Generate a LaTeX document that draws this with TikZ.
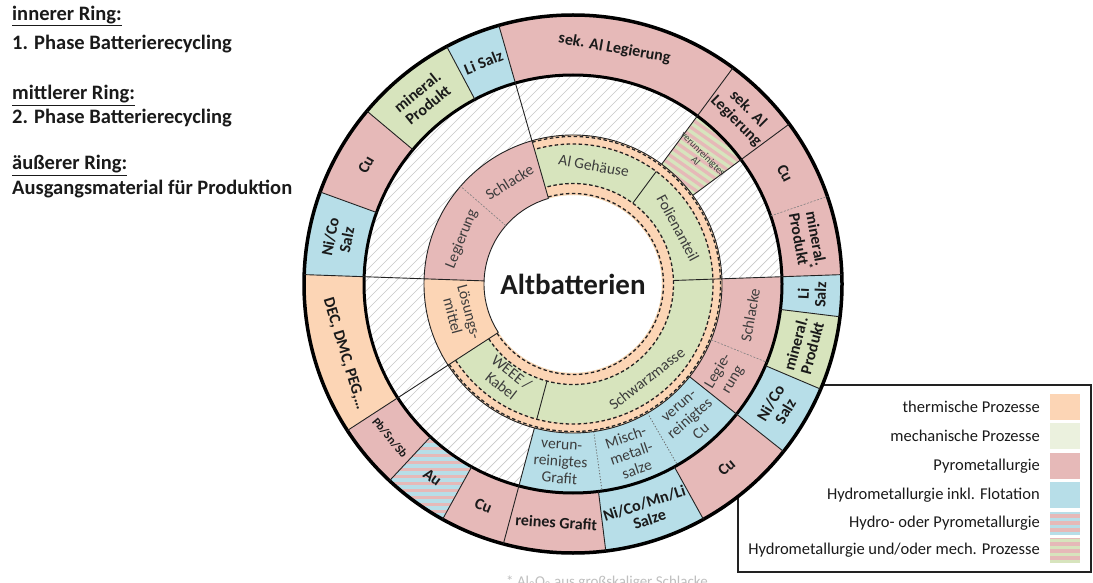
\documentclass[tikz,border=0pt]{standalone}
\usepackage{fontspec}
\setmainfont{Carlito}
\definecolor{pk}{HTML}{E6B9B8}
\definecolor{bl}{HTML}{B7DEE8}
\definecolor{gr}{HTML}{D7E4BD}
\definecolor{grl}{HTML}{EBF1DE}
\definecolor{orng}{HTML}{FCD5B5}
\definecolor{hatchc}{HTML}{C8C8C8}
\definecolor{ink}{HTML}{1A1A1A}
\definecolor{txtg}{HTML}{3C3C3C}
\definecolor{edge}{HTML}{222222}
\newcommand\sectfill[5]{\fill[#1] (#2:#4) arc[start angle=#2,end angle=#3,radius=#4] -- (#3:#5) arc[start angle=#3,end angle=#2,radius=#5] -- cycle;}
\newcommand\sectclip[4]{\clip (#1:#3) arc[start angle=#1,end angle=#2,radius=#3] -- (#2:#4) arc[start angle=#2,end angle=#1,radius=#4] -- cycle;}
\newcommand\hatchsect[4]{\begin{scope}\sectclip{#1}{#2}{#3}{#4}\fill[white] (-280,-280) rectangle (280,280);
  \foreach \k in {-560,-550,...,560}{\draw[hatchc,line width=0.7pt] (\k-280,-280) -- (\k+280,280);}\end{scope}}
\newcommand\stripesect[7]{\begin{scope}\sectclip{#1}{#2}{#3}{#4}\fill[#5] (-280,-280) rectangle (280,280);
  \foreach \k in {-280,-273,...,280}{\draw[#6,line width=3.3pt,rotate=#7] (-300,\k) -- (300,\k);}\end{scope}}
\newcommand\radl[4]{\draw[#1] (#2:#3) -- (#2:#4);}
\newcommand\lab[6]{\node[#2,rotate=#5] (#1) at (#3:#4) {#6};}
\begin{document}
\begin{tikzpicture}[x=1pt,y=1pt,
  hd/.style={anchor=base west,font=\fontsize{20.5}{24}\selectfont\bfseries,text=ink,inner sep=0pt},
  ol/.style={font=\fontsize{16}{17}\selectfont\bfseries,text=ink,align=center,inner sep=0pt},
  olsmall/.style={font=\fontsize{12}{13}\selectfont\bfseries,text=ink,align=center,inner sep=0pt},
  ml/.style={font=\fontsize{15.5}{17}\selectfont,text=txtg,align=center,inner sep=0pt},
  mlsmall/.style={font=\fontsize{10}{10.5}\selectfont,text=txtg,align=center,inner sep=0pt},
  seg/.style={draw=edge,line width=0.9pt},
  dsh/.style={draw=edge,line width=1.3pt,dash pattern=on 3.5pt off 2.5pt},
  fdsh/.style={draw=gray,line width=0.6pt,dash pattern=on 2pt off 1.5pt},
  dot/.style={draw=gray!80!black,line width=0.8pt,dash pattern=on 1.2pt off 1.8pt},
  lg/.style={anchor=east,font=\fontsize{16.5}{18}\selectfont,text=ink,inner sep=0pt}]
\useasboundingbox (0,0) rectangle (1093,582);
\fill[white] (0,0) rectangle (1093,582);
% top-left explanation
\node[hd] (h1) at (12,561.3) {\underline{innerer Ring:}};
\node[hd] (h2) at (12,532) {1. Phase Batterierecycling};
\node[hd] (h3) at (12,482) {\underline{mittlerer Ring:}};
\node[hd] (h4) at (12,458) {2. Phase Batterierecycling};
\node[hd] (h5) at (12,412) {\underline{äußerer Ring:}};
\node[hd] (h6) at (12,387) {Ausgangsmaterial für Produktion};
% legend
\draw[edge,line width=1.3pt] (738,10) rectangle (1091,197);
\fill[orng] (1050,162.5) rectangle (1080,188.5);
\fill[grl] (1050,133.5) rectangle (1080,159.5);
\fill[pk] (1050,103) rectangle (1080,129);
\fill[bl] (1050,74) rectangle (1080,100);
\begin{scope}\clip (1050,47) rectangle (1080,70);\fill[pk] (1050,47) rectangle (1080,70);
\foreach \k in {48.5,55.5,...,70}{\draw[bl,line width=3.3pt] (1050,\k) -- (1080,\k);}\end{scope}
\begin{scope}\clip (1050,19) rectangle (1080,44);\fill[pk] (1050,19) rectangle (1080,44);
\foreach \k in {20.5,27.5,...,44}{\draw[gr,line width=3.3pt] (1050,\k) -- (1080,\k);}\end{scope}
\node[lg] (l1) at (1040,175.5) {thermische Prozesse};
\node[lg] (l2) at (1040,146.5) {mechanische Prozesse};
\node[lg] (l3) at (1040,116) {Pyrometallurgie};
\node[lg] (l4) at (1040,87) {Hydrometallurgie inkl. Flotation};
\node[lg] (l5) at (1040,58.5) {Hydro- oder Pyrometallurgie};
\node[lg] (l6) at (1040,31.5) {Hydrometallurgie und/oder mech. Prozesse};
% footnote
\node[anchor=base west,font=\fontsize{15}{16}\selectfont,text=gray!50,inner sep=0pt] (fn) at (506,-4) {* Al\textsubscript{2}O\textsubscript{3} aus großskaliger Schlacke};
% ===== chart =====
\begin{scope}[shift={(573,298)}]
\fill[white] (0,0) circle (269);
% middle ring
\hatchsect{0}{360}{149}{209}
\stripesect{36.5}{53.5}{149}{209}{gr}{pk}{-35}
\sectfill{pk}{-38.5}{2}{149}{209}
\sectfill{bl}{-105}{-38.5}{149}{209}
% outer ring
\sectfill{pk}{0}{360}{209}{269}
\sectfill{bl}{-7}{2}{209}{269}
\sectfill{gr}{-23}{-7}{209}{269}
\sectfill{bl}{-38.5}{-23}{209}{269}
\sectfill{bl}{-83}{-61}{209}{269}
\stripesect{-133}{-119}{209}{269}{pk}{bl}{0}
\sectfill{orng}{178}{213}{209}{269}
\sectfill{bl}{160}{178}{209}{269}
\sectfill{gr}{118}{140}{209}{269}
\sectfill{bl}{106}{118}{209}{269}
% inner ring
\sectfill{pk}{106}{178}{89}{149}
\sectfill{orng}{178}{213}{89}{149}
\sectfill{gr}{-147}{106}{89}{149}
\sectfill{orng}{-147}{106}{139.5}{149}
\sectfill{orng}{-147}{106}{89}{100.5}
\draw[dsh] (-147:147.5) arc[start angle=-147,end angle=106,radius=147.5];
\draw[dsh] (-147:140) arc[start angle=-147,end angle=106,radius=140];
\draw[dsh] (-147:100.5) arc[start angle=-147,end angle=106,radius=100.5];
\draw[dsh] (-147:90.5) arc[start angle=-147,end angle=106,radius=90.5];
\draw[seg] (106:89) arc[start angle=106,end angle=213,radius=89];
% circles
\draw[seg] (0,0) circle (149);
\draw[draw=black,line width=3pt] (0,0) circle (209);
\draw[draw=black,line width=3.5pt] (0,0) circle (269);
% dividers
\radl{seg}{106}{89}{269}
\radl{seg}{178}{89}{269}
\radl{seg}{213}{89}{269}
\radl{seg}{2}{100.5}{269}
\radl{seg}{53.5}{100.5}{140}
\radl{seg}{53.5}{149}{269}
\radl{seg}{36.5}{149}{269}
\radl{seg}{-105}{100.5}{140}
\radl{seg}{-105}{149}{269}
\radl{seg}{-38.5}{149}{269}
\radl{dot}{-60}{149}{209}
\radl{seg}{-61}{209}{269}
\radl{dot}{-82}{149}{209}
\radl{seg}{-83}{209}{269}
\radl{fdsh}{-22}{149}{209}
\radl{fdsh}{139}{89}{149}
\radl{seg}{118}{209}{269}
\radl{seg}{140}{209}{269}
\radl{seg}{160}{209}{269}
\radl{seg}{-133}{209}{269}
\radl{seg}{-119}{209}{269}
\radl{seg}{-23}{209}{269}
\radl{seg}{-7}{209}{269}
\radl{fdsh}{19}{209}{269}
% outer labels
\lab{o1}{ol}{80}{239}{-10}{sek. Al Legierung}
\lab{o2}{ol}{45}{239}{-45}{sek. Al\\Legierung}
\lab{o3}{ol}{27.5}{239}{-62.5}{Cu}
\lab{o4}{ol}{10.5}{239}{-79.5}{mineral.\\Produkt\textsuperscript{*}}
\lab{o5}{ol}{-2.5}{239}{87.5}{Li\\Salz}
\lab{o6}{ol}{-15}{239}{75}{mineral.\\Produkt}
\lab{o7}{ol}{-31}{239}{59}{Ni/Co\\Salz}
\lab{o8}{ol}{-50}{239}{40}{Cu}
\lab{o9}{ol}{-72}{239}{18}{Ni/Co/Mn/Li\\Salze}
\lab{o10}{ol}{-94}{239}{-4}{reines Grafit}
\lab{o11}{ol}{-112}{239}{-22}{Cu}
\lab{o12}{ol}{-126}{239}{-36}{Au}
\lab{o13}{olsmall}{-140}{239}{-50}{Pb/Sn/Sb}
\lab{o14}{ol}{-163}{239}{-73}{DEC, DMC, PEG,…}
\lab{o15}{ol}{169}{239}{79}{Ni/Co\\Salz}
\lab{o16}{ol}{150}{239}{60}{Cu}
\lab{o17}{ol}{129}{239}{39}{mineral.\\Produkt}
\lab{o18}{ol}{112}{239}{22}{Li Salz}
% middle labels
\lab{m1}{mlsmall}{45}{179}{-45}{verunreinigtes\\Al}
\lab{m2}{ml}{-10}{180}{80}{Schlacke}
\lab{m3}{ml}{-31}{178}{59}{Legie-\\rung}
\lab{m4}{ml}{-49}{179}{41}{verun-\\reinigtes\\Cu}
\lab{m5}{ml}{-71}{179}{19}{Misch-\\metall-\\salze}
\lab{m6}{ml}{-94}{179}{-4}{verun-\\reinigtes\\Grafit}
% inner labels
\lab{i1}{ml}{80}{120}{-10}{Al Gehäuse}
\lab{i2}{ml}{28}{119}{-62}{Folienanteil}
\lab{i3}{ml}{-52}{120}{38}{Schwarzmasse}
\lab{i4}{ml}{-125}{116}{-38}{WEEE /\\Kabel}
\lab{i5}{ml}{-165}{116}{-75}{Lösungs-\\mittel}
\lab{i6}{ml}{158}{120}{68}{Legierung}
\lab{i7}{ml}{122}{120}{32}{Schlacke}
% centre
\node[font=\fontsize{29}{32}\selectfont\bfseries,text=ink] (c) at (0,0) {Altbatterien};
\end{scope}
\end{tikzpicture}
\end{document}
